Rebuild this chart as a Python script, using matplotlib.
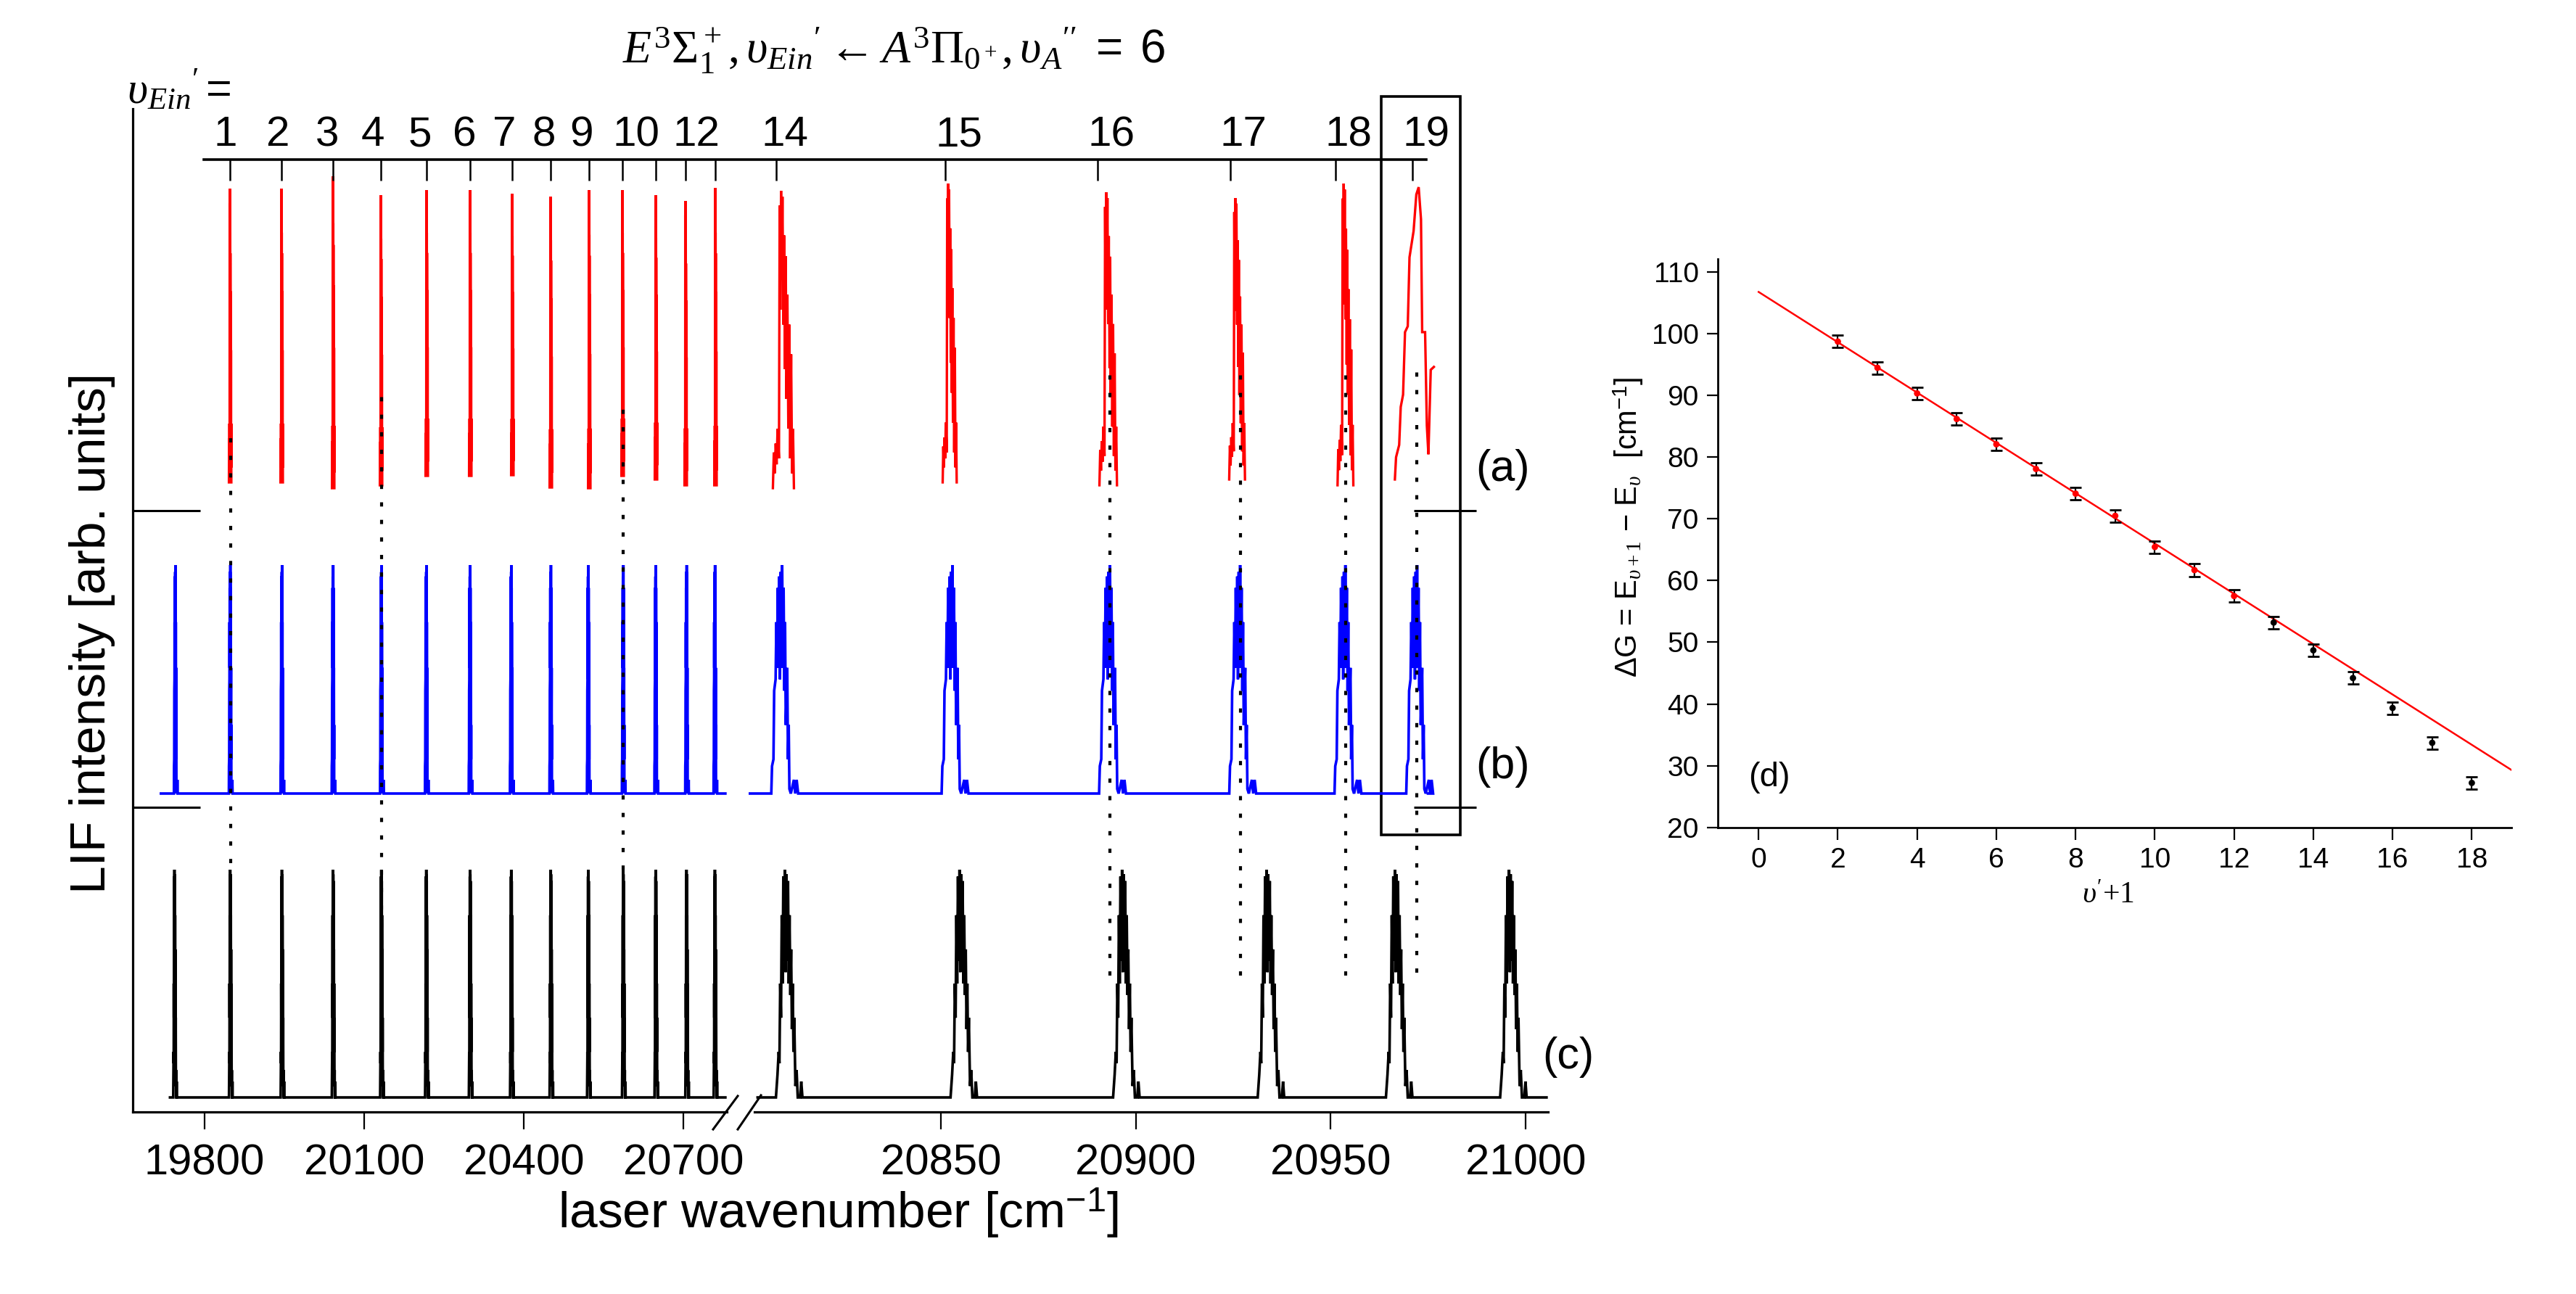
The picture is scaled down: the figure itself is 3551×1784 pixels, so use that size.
import numpy as np
import matplotlib
matplotlib.use("Agg")
import matplotlib.pyplot as plt
from matplotlib.patches import Rectangle
from matplotlib.lines import Line2D

plt.rcParams['font.family'] = ['Liberation Sans', 'DejaVu Sans']
plt.rcParams['mathtext.fontset'] = 'custom'
plt.rcParams['mathtext.rm'] = 'Liberation Serif'
plt.rcParams['mathtext.it'] = 'Liberation Serif:italic'
plt.rcParams['mathtext.bf'] = 'Liberation Serif:bold'
plt.rcParams['mathtext.sf'] = 'Liberation Sans'
plt.rcParams['mathtext.fallback'] = 'stix'

# ======================= data =======================
# vibrational levels v_Ein' and their assigned band positions (cm-1)
levels = [1, 2, 3, 4, 5, 6, 7, 8, 9, 10, 11, 12, 13, 14, 15, 16, 17, 18, 19]
level_pos = [19847.7, 19944.6, 20041.4, 20131.4, 20217.3, 20299.1, 20378.2,
             20450.5, 20522.8, 20585.5, 20648.2, 20704.1, 20760.1,
             20807.8, 20851.1, 20890.3, 20924.2, 20951.2, 20971.0]
level_label = ['1', '2', '3', '4', '5', '6', '7', '8', '9', '10', '', '12', '',
               '14', '15', '16', '17', '18', '19']
label_pos = [19839.5, 19936.4, 20030.5, 20116.4, 20205.0, 20288.2, 20363.2,
             20438.2, 20507.8, 20611.4, 0.0, 20724.6, 0.0,
             20810.0, 20854.7, 20893.7, 20927.6, 20954.6, 20974.5]

# (a) experimental LIF spectrum (v' = 1..18 bands)
exp_pos = [19847.7, 19944.6, 20041.4, 20131.4, 20217.3, 20299.1, 20378.2,
           20450.5, 20522.8, 20585.5, 20648.2, 20704.1, 20760.1,
           20809.2, 20852.0, 20892.6, 20925.7, 20953.5]
exp_height = [4.05, 4.05, 4.30, 4.00, 3.94, 3.94, 3.88, 4.01, 4.11, 3.94,
              3.92, 3.92, 4.10, 4.10, 4.12, 4.04, 3.88, 4.16]
exp_floor = [0.00, 0.00, -0.08, -0.04, 0.09, 0.09, 0.10, -0.07, -0.08, 0.09,
             0.04, -0.04, -0.04, -0.08, 0.00, -0.04, 0.04, -0.04]
exp_width = [1.0, 1.0, 1.0, 1.0, 1.0, 1.0, 1.0, 1.0, 1.0, 1.0, 1.0, 1.0, 1.0,
             1.2, 0.8, 1.0, 0.9, 0.9]
# band contour of the experimental bands (offset from head in cm-1, rel. intensity)
exp_off = [-1.9, -1.7, -1.5, -1.3, -1.1, -0.9, -0.6, -0.45, -0.3, -0.15, 0.0,
           0.15, 0.35, 0.5, 0.7, 0.85, 1.0, 1.2, 1.4, 1.6, 1.8, 2.0, 2.2, 2.4, 2.6]
exp_int = [0.0, 0.12, 0.05, 0.15, 0.08, 0.20, 0.10, 0.95, 0.60, 1.0, 0.70,
           0.98, 0.55, 0.85, 0.40, 0.78, 0.30, 0.65, 0.20, 0.55, 0.10, 0.45,
           0.05, 0.20, 0.0]
# v' = 19 band (separate, truncated scan)
exp19_nu = [20966.5, 20966.8, 20967.6, 20968.0, 20968.6, 20969.1, 20969.8,
            20970.25, 20971.3, 20972.0, 20972.6, 20973.2, 20973.5, 20974.25,
            20974.7, 20975.1, 20975.7, 20976.5]
exp19_int = [0.0, 0.076, 0.118, 0.248, 0.29, 0.504, 0.524, 0.76, 0.85, 0.975,
             1.0, 0.89, 0.504, 0.504, 0.184, 0.086, 0.375, 0.385]
exp19_height = 4.03
exp19_floor = 0.04

# (b) simulated spectrum (blue), v' = 0..19
simb_pos = [19745.2, 19848.5, 19945.6, 20041.8, 20132.6, 20217.1, 20299.4,
            20376.8, 20451.1, 20521.6, 20587.3, 20648.4, 20706.3, 20759.6,
            20809.3, 20853.0, 20893.4, 20926.8, 20953.8, 20972.2]
simb_height = [3.15, 3.15, 3.15, 3.15, 3.15, 3.15, 3.15, 3.15, 3.15, 3.15,
               3.15, 3.15, 3.15, 3.15, 3.15, 3.15, 3.15, 3.15, 3.15, 3.15]
simb_range = [(19718.0, 20779.0), (20800.7, 20975.0)]
simb_off = [-2.79, -2.6, -2.23, -2.05, -1.68, -1.49, -1.3, -1.12, -0.93, -0.74,
            -0.56, -0.37, -0.19, 0.0, 0.19, 0.37, 0.56, 0.74, 0.93, 1.3, 1.49,
            1.68, 1.86, 2.23, 3.0, 3.35, 3.72, 4.1]
simb_int = [0.0, 0.12, 0.15, 0.45, 0.50, 0.75, 0.55, 0.90, 0.60, 0.95,
            0.50, 0.97, 0.55, 1.0, 0.60, 0.90, 0.45, 0.75, 0.30, 0.55, 0.15,
            0.30, 0.02, 0.0, 0.06, 0.0, 0.06, 0.0]

# (c) simulated spectrum (black), v' = 0..19
simc_pos = [19743.7, 19848.5, 19945.6, 20041.8, 20132.6, 20217.1, 20299.4,
            20376.8, 20451.1, 20521.6, 20587.3, 20648.4, 20706.3, 20759.6,
            20810.3, 20855.1, 20896.8, 20933.9, 20966.8, 20996.1]
simc_height = [3.14, 3.14, 3.14, 3.14, 3.14, 3.14, 3.14, 3.14, 3.14, 3.14,
               3.14, 3.14, 3.14, 3.14, 3.14, 3.14, 3.14, 3.14, 3.14, 3.14]
simc_range = [(19735.0, 20779.0), (20803.0, 21005.4)]
simc_off = [-2.6, -2.2, -1.9, -1.7, -1.5, -1.3, -1.1, -0.9, -0.7, -0.5, -0.3,
            -0.1, 0.1, 0.3, 0.5, 0.7, 0.9, 1.1, 1.3, 1.5, 1.7, 1.9, 2.1, 2.4,
            2.7, 3.0, 3.6, 3.9, 4.2]
simc_int = [0.0, 0.10, 0.20, 0.15, 0.50, 0.35, 0.80, 0.50, 0.97, 0.60, 1.0,
            0.55, 0.98, 0.60, 0.95, 0.50, 0.80, 0.45, 0.65, 0.30, 0.50, 0.20,
            0.35, 0.05, 0.12, 0.0, 0.0, 0.07, 0.0]

# dotted guide lines (v' levels) : position, upper end, lower end
guide_pos = [19848.5, 20132.6, 20587.3, 20893.4, 20926.8, 20953.8, 20972.2]
guide_top = [9.46, 9.89, 9.71, 10.32, 10.23, 10.19, 10.27]
guide_bot = [3.43, 1.58, 3.34, 1.88, 1.88, 1.88, 1.92]

# (d) vibrational spacings
dG_v = [2, 3, 4, 5, 6, 7, 8, 9, 10, 11, 12, 13, 14, 15, 16, 17, 18]
dG = [98.75, 94.5, 90.35, 86.2, 82.1, 78.1, 74.1, 70.5, 65.45, 61.7, 57.5,
      53.2, 48.7, 44.2, 39.35, 33.7, 27.2]
dG_err = [1.0, 1.0, 1.0, 1.0, 1.0, 1.0, 1.0, 1.0, 1.0, 1.0, 1.0,
          1.0, 1.0, 1.0, 1.0, 1.0, 1.0]
n_fitted = 11
fit_v = [0.0, 19.0]
fit_dG = [106.8, 29.3]

# ======================= layout =======================
W, H = 3551, 1784
fig = plt.figure(figsize=(W / 100, H / 100), dpi=100)


def fx(px):
    return px / W


def fy(py):
    return 1 - py / H


OFF_A, OFF_B, OFF_C = 8.68, 4.39, 0.20
YMAX = 13.83

ax_l = fig.add_axes([fx(183), fy(1533), (1012 - 183) / W, (1533 - 150) / H])
ax_r = fig.add_axes([fx(1032), fy(1533), (2134 - 1032) / W, (1533 - 150) / H])
ax_l.set_xlim(19665.0, 20795.5)
ax_r.set_xlim(20800.7, 21005.8)
for ax in (ax_l, ax_r):
    ax.set_ylim(0, YMAX)
    ax.set_yticks([])
    ax.spines['top'].set_visible(False)
    ax.spines['right'].set_visible(False)
    ax.spines['bottom'].set_linewidth(2.3)
    ax.spines['left'].set_linewidth(2.3)
    ax.tick_params(axis='x', direction='out', length=17, width=1.6,
                   labelsize=43, pad=14)
    ax.patch.set_alpha(0)
ax_r.spines['left'].set_visible(False)
ax_l.spines['bottom'].set_bounds(19665.0, 20781.9)
ax_r.spines['bottom'].set_bounds(20802.2, 21005.8)
ax_l.set_xticks([19800, 20100, 20400, 20700])
ax_r.set_xticks([20850, 20900, 20950, 21000])


def build_continuous(pos, height, off, inten, ranges):
    xs, ys = [], []
    for lo, hi in ranges:
        xs.append(lo)
        ys.append(0.0)
        for c, h in zip(pos, height):
            if lo < c < hi:
                for o, v in zip(off, inten):
                    xs.append(c + o)
                    ys.append(h * v)
        xs.append(hi)
        ys.append(0.0)
        xs.append(np.nan)
        ys.append(np.nan)
    return np.array(xs), np.array(ys)


def build_bands(pos, height, floor, width, off, inten):
    xs, ys = [], []
    for c, h, f, w in zip(pos, height, floor, width):
        for o, v in zip(off, inten):
            xs.append(c + o * w)
            ys.append(f + h * v)
        xs.append(np.nan)
        ys.append(np.nan)
    return np.array(xs), np.array(ys)


xa, ya = build_bands(exp_pos, exp_height, exp_floor, exp_width, exp_off, exp_int)
xa = np.concatenate([xa, np.array(exp19_nu)])
ya = np.concatenate([ya, exp19_floor + exp19_height * np.array(exp19_int)])
xb, yb = build_continuous(simb_pos, simb_height, simb_off, simb_int, simb_range)
xc, yc = build_continuous(simc_pos, simc_height, simc_off, simc_int, simc_range)

for ax in (ax_l, ax_r):
    ax.plot(xa, ya + OFF_A, color='#ff0000', lw=2.4, solid_joinstyle='miter')
    ax.plot(xb, yb + OFF_B, color='#0000ff', lw=2.6, solid_joinstyle='miter')
    ax.plot(xc, yc + OFF_C, color='black', lw=2.6, solid_joinstyle='miter')
    ax.vlines(guide_pos, guide_bot, guide_top, colors='black', lw=3.0,
              linestyles=(0, (1.4, 4.4)))
    # top level ticks
    ax.vlines(level_pos, 12.84, 13.13, colors='black', lw=1.8)

# top level labels
for lab, p in zip(level_label, label_pos):
    if not lab:
        continue
    ax = ax_l if p < 20795 else ax_r
    ax.text(p, 13.47, lab, ha='center', va='center', fontsize=42)

# top axis line (figure-level, derived from data transforms)
inv = fig.transFigure.inverted()
p0 = inv.transform(ax_l.transData.transform((19798.6, 13.13)))
p1 = inv.transform(ax_r.transData.transform((20974.5, 13.13)))
fig.add_artist(Line2D([p0[0], p1[0]], [p0[1], p1[1]], transform=fig.transFigure,
                      color='black', lw=2.6))

# separators between traces
ax_l.hlines([8.29, 4.20], 19665.0, 19792.0, colors='black', lw=2.2)
ax_r.hlines([8.29, 4.20], 20971.3, 20987.4, colors='black', lw=2.2, clip_on=False)

# highlight box around v'=19
ax_r.add_patch(Rectangle((20963.0, 3.82), 20.3, 10.18, fill=False, ec='black',
                         lw=2.6, clip_on=False))

# trace labels
ax_r.text(20994.2, 8.85, '(a)', ha='center', va='center', fontsize=44, clip_on=False)
ax_r.text(20994.2, 4.76, '(b)', ha='center', va='center', fontsize=44, clip_on=False)
ax_r.text(21011.0, 0.76, '(c)', ha='center', va='center', fontsize=44, clip_on=False)

# axis-break marks
for (x0, y0, x1, y1) in [(983, 1557, 1017, 1511), (1017, 1557, 1049, 1510)]:
    fig.add_artist(Line2D([fx(x0), fx(x1)], [fy(y0), fy(y1)],
                          transform=fig.transFigure, color='black', lw=2.2))

# labels and title
fig.text(fx(127), fy(873), 'LIF intensity [arb. units]', rotation=90,
         ha='center', va='center', fontsize=50)
fig.text(fx(1155), fy(1672), r'laser wavenumber [cm$^{\mathsf{-1}}$]',
         ha='center', va='center', fontsize=50)
fig.text(fx(1232), fy(70),
         r'$E^3\Sigma_1^+,\upsilon_{Ein}{}^{\prime}\leftarrow A^3\Pi_{0^+},'
         r'\upsilon_{A}{}^{\prime\prime}\mathsf{\ =\ 6}$',
         ha='center', va='center', fontsize=46)
fig.text(fx(247), fy(127), r'$\upsilon_{Ein}{}^{\prime}\mathsf{=}$',
         ha='center', va='center', fontsize=44)

# ======================= panel (d) =======================
ax_d = fig.add_axes([fx(2368), fy(1140.6), (3462 - 2368) / W, (1140.6 - 357) / H])
ax_d.set_xlim(-1.03, 19.0)
ax_d.set_ylim(20, 112.15)
ax_d.spines['top'].set_visible(False)
ax_d.spines['right'].set_visible(False)
ax_d.spines['left'].set_linewidth(2.0)
ax_d.spines['bottom'].set_linewidth(2.0)
ax_d.set_xticks(np.arange(0, 19, 2))
ax_d.set_yticks(np.arange(20, 111, 10))
ax_d.tick_params(axis='x', direction='out', length=12, width=1.6, labelsize=28, pad=8)
ax_d.tick_params(axis='y', direction='out', length=11, width=1.6, labelsize=28, pad=8)
ax_d.patch.set_alpha(0)

ax_d.plot(fit_v, fit_dG, color='#ff0000', lw=1.8, zorder=2)
ax_d.errorbar(dG_v, dG, yerr=dG_err, fmt='none', ecolor='black', elinewidth=1.6,
              capsize=6, capthick=2.0, zorder=3)
cols = ['#ff0000'] * n_fitted + ['black'] * (len(dG_v) - n_fitted)
ax_d.scatter(dG_v, dG, c=cols, s=40, marker='o', zorder=4, linewidths=0)
ax_d.text(0.27, 28.1, '(d)', ha='center', va='center', fontsize=34)

fig.text(fx(2245), fy(727),
         r'ΔG = E$_{\upsilon+1}$ − E$_{\upsilon}$  [cm$^{\mathsf{-1}}$]',
         rotation=90, ha='center', va='center', fontsize=30)
fig.text(fx(2906), fy(1234), r"$\upsilon'\mathrm{+1}$", ha='center', va='center',
         fontsize=30)

fig.savefig('out.png', dpi=100)
